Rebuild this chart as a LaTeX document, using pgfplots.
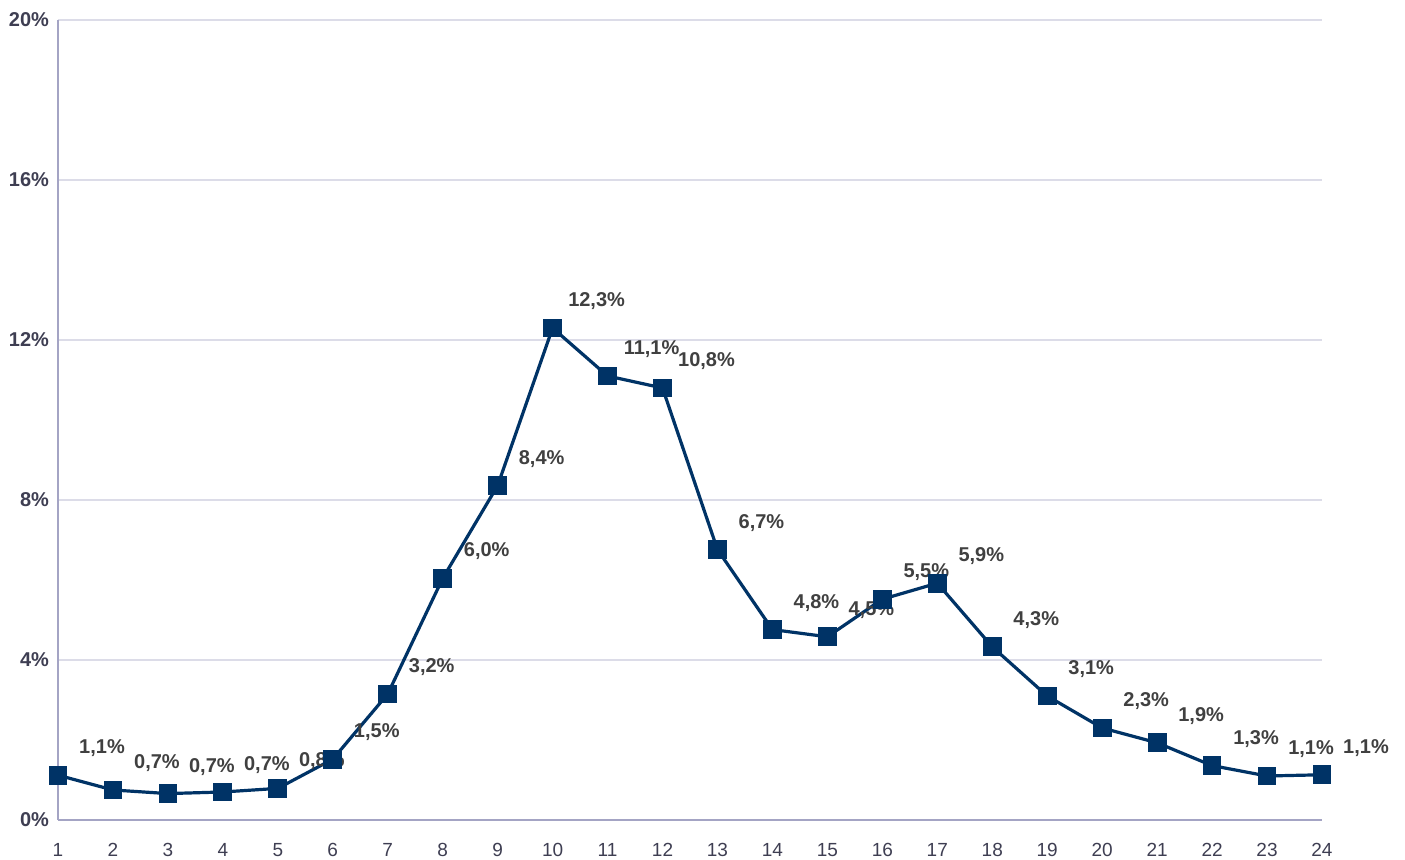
\documentclass[border=0pt]{standalone}
\usepackage{pgfplots}
\pgfplotsset{compat=1.18}
\usepackage{fontspec}
\setmainfont{Liberation Sans}
\definecolor{navy}{HTML}{003366}
\definecolor{axcol}{HTML}{A4A4C4}
\definecolor{gridcol}{HTML}{DCDCE8}
\definecolor{tickcol}{HTML}{3E3E52}
\definecolor{lblcol}{HTML}{404040}
\begin{document}
\begin{tikzpicture}
\begin{axis}[
  name=ax, at={(0,0)}, anchor=south west,
  scale only axis, width=632pt, height=400pt,
  xmin=1, xmax=24, ymin=0, ymax=20,
  axis x line*=bottom, axis y line*=left,
  axis line style={axcol, line width=0.8pt, -},
  xtick={1,...,24}, ytick={0,4,8,12,16,20},
  xticklabels={1,2,3,4,5,6,7,8,9,10,11,12,13,14,15,16,17,18,19,20,21,22,23,24},
  yticklabels={0\%,4\%,8\%,12\%,16\%,20\%},
  major tick length=0pt,
  ymajorgrids, grid style={gridcol, line width=0.7pt},
  yticklabel style={font=\fontsize{10}{12}\selectfont\bfseries, text=tickcol, xshift=-1pt},
  xticklabel style={font=\fontsize{9.5}{11}\selectfont, text=tickcol, yshift=-8pt},
  clip=false,
  point meta=explicit symbolic,
  nodes near coords={\pgfplotspointmeta},
  nodes near coords style={anchor=center, inner sep=0pt, xshift=22pt, yshift=13.5pt,
     font=\fontsize{10}{12}\selectfont\bfseries, text=lblcol},
]
\addplot[navy, line width=1.6pt, mark=square*, mark size=3.9pt, mark options={solid, fill=navy}]
table[x=x, y=y, meta=l] {
x y l
1 1.12 1,1\%
2 0.75 0,7\%
3 0.66 0,7\%
4 0.70 0,7\%
5 0.79 0,8\%
6 1.52 1,5\%
7 3.15 3,2\%
8 6.04 6,0\%
9 8.36 8,4\%
10 12.30 12,3\%
11 11.10 11,1\%
12 10.80 10,8\%
13 6.76 6,7\%
14 4.76 4,8\%
15 4.58 4,5\%
16 5.52 5,5\%
17 5.92 5,9\%
18 4.33 4,3\%
19 3.10 3,1\%
20 2.30 2,3\%
21 1.93 1,9\%
22 1.36 1,3\%
23 1.10 1,1\%
24 1.13 1,1\%
};
\end{axis}
\pgfresetboundingbox
\path (-29pt,-20pt) rectangle (673.5pt,410pt);
\end{tikzpicture}
\end{document}
